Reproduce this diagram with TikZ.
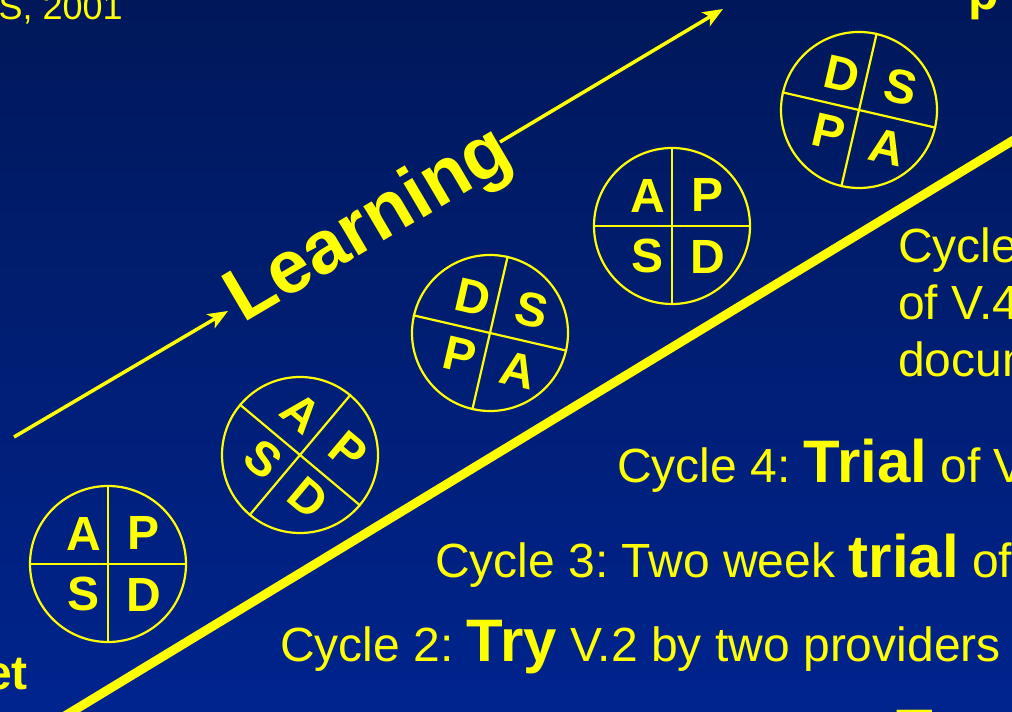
\documentclass[tikz,border=0pt]{standalone}
\usepackage{fontspec}
\setmainfont{Liberation Sans}
\usetikzlibrary{arrows.meta,calc}
\definecolor{slidetop}{RGB}{0,24,90}
\definecolor{slidebot}{RGB}{0,36,142}
\definecolor{pen}{RGB}{255,255,0}
\newcommand{\Stress}[1]{{\fontsize{60}{60}\selectfont\bfseries #1}}
\newcommand{\PDSA}[8]{%
  \node[wheel, rotate=#4] (#1) at (#2,#3) {};
  \draw[spoke] (#1.north) -- (#1.south);
  \draw[spoke] (#1.west) -- (#1.east);
  \node[letter, rotate=#4] (#1tl) at ($(#1.center)!0.53!(#1.north west)+(5,0)$) {#5};
  \node[letter, rotate=#4] (#1tr) at ($(#1.center)!0.55!(#1.north east)+(5,0)$) {#6};
  \node[letter, rotate=#4] (#1bl) at ($(#1.center)!0.53!(#1.south west)+(5,0)$) {#7};
  \node[letter, rotate=#4] (#1br) at ($(#1.center)!0.55!(#1.south east)+(5,0)$) {#8};
}

\begin{document}
\begin{tikzpicture}[
  x=1pt, y=1pt,
  wheel/.style={draw=pen, circle, line width=2.2pt, inner sep=0pt, minimum size=156pt},
  spoke/.style={draw=pen, line width=2.2pt},
  letter/.style={text=pen, font=\fontsize{48}{48}\selectfont\bfseries, inner sep=0pt},
  say/.style={text=pen, font=\fontsize{48}{57}\selectfont\frenchspacing, inner sep=0pt, anchor=base west},
  arr/.style={-{Stealth[length=20pt,width=16pt,inset=5pt]}, line width=3.5pt, draw=pen},
  rail/.style={draw=pen, line width=9pt}
]
\useasboundingbox (0,0) rectangle (1012,712);
\clip (0,0) rectangle (1012,712);
\shade[top color=slidetop, bottom color=slidebot] (0,0) rectangle (1012,712);
% Cut-off slide text
\node[text=pen, font=\fontsize{36}{36}\selectfont\frenchspacing, inner sep=0pt, anchor=base east] (src) at (123,692) {S, 2001};
\node[text=pen, font=\fontsize{50}{50}\selectfont\bfseries, inner sep=0pt, anchor=base west] (topp) at (968,702) {p};
\node[text=pen, font=\fontsize{48}{48}\selectfont\bfseries, inner sep=0pt, anchor=base east] (et) at (28,22) {et};
\node[text=pen, font=\fontsize{60}{60}\selectfont\bfseries, inner sep=0pt, anchor=base west] (lowT) at (896,-39) {T};
% Ramp
\coordinate (rail0) at (45,-16);
\coordinate (rail1) at (1045,591);
\draw[rail] (rail0) -- (rail1);
% Learning
\node[text=pen, font=\fontsize{75}{75}\selectfont\bfseries, inner sep=0pt, anchor=base west, rotate=30.5] (learn) at (243,388) {Learning};
\coordinate (in0) at (14,275);
\coordinate (in1) at (228,401);
\coordinate (out0) at (500,570);
\coordinate (out1) at (723,703);
\draw[arr] (in0) -- (in1);
\draw[arr] (out0) -- (out1);
% PDSA wheels
\PDSA{c1}{108}{148}{0}{A}{P}{S}{D}
\PDSA{c2}{300}{257}{-40}{A}{P}{S}{D}
\PDSA{c3}{490}{379}{-13}{D}{S}{P}{A}
\PDSA{c4}{672}{486}{0}{A}{P}{S}{D}
\PDSA{c5}{859}{602}{-13}{D}{S}{P}{A}
% Cycle notes
\node[say] (cy2) at (280,50) {Cycle 2: \Stress{Try} V.2 by two providers};
\node[say] (cy3) at (435,134) {Cycle 3: Two week \Stress{trial} of};
\node[say] (cy4) at (617,229) {Cycle 4: \Stress{Trial} of V};
\node[say] (cy5a) at (898,449) {Cycle};
\node[say] (cy5b) at (898,392) {of V.4};
\node[say] (cy5c) at (898,335) {documentation};
\end{tikzpicture}
\end{document}
